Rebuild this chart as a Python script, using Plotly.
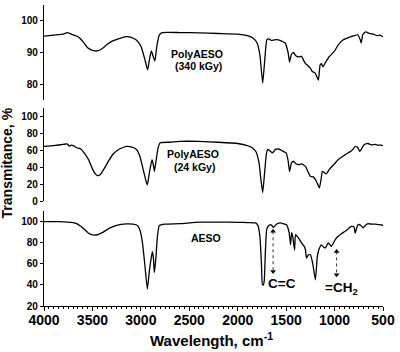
import plotly.graph_objects as go

# ---------------- data ----------------
wn_340 = [4000, 3900, 3800, 3760, 3720, 3650, 3600, 3550, 3500, 3450, 3400, 3350, 3300, 3200, 3150, 3100,
          3050, 3000, 2960, 2930, 2910, 2892, 2875, 2855, 2835, 2810, 2780, 2600, 2400, 2200, 2000, 1900,
          1840, 1800, 1770, 1742, 1720, 1700, 1680, 1650, 1620, 1580, 1540, 1510, 1480, 1465, 1445, 1424,
          1400, 1372, 1340, 1321, 1300, 1280, 1249, 1230, 1200, 1167, 1150, 1135, 1120, 1100, 1060, 1000,
          962, 910, 850, 800, 760, 735, 725, 710, 690, 674, 640, 600, 560, 530, 500]
t_340 = [95.2, 95.5, 95.8, 96.3, 95.8, 95.0, 93.5, 91.5, 90.7, 90.5, 91.2, 92.5, 93.5, 94.6, 95.0, 94.8,
         94.0, 92.0, 88.0, 84.5, 88.0, 90.5, 89.0, 87.3, 92.0, 95.5, 96.3, 96.3, 96.2, 96.0, 95.8, 95.3,
         94.5, 93.0, 89.0, 80.3, 88.0, 94.0, 94.3, 93.8, 94.0, 94.0, 93.5, 93.0, 90.0, 87.0, 89.5, 90.0,
         89.0, 88.6, 88.8, 87.6, 86.5, 86.0, 85.0, 84.0, 83.5, 81.3, 86.0, 86.5, 85.5, 86.5, 88.5, 90.5,
         92.4, 94.0, 94.8, 95.3, 95.6, 94.0, 93.0, 95.5, 96.3, 96.5, 96.0, 95.8, 95.3, 95.5, 95.0]

wn_24 = [4000, 3900, 3800, 3760, 3740, 3720, 3700, 3660, 3620, 3580, 3540, 3500, 3470, 3450, 3420, 3380,
         3330, 3290, 3230, 3150, 3100, 3045, 3010, 2984, 2950, 2933, 2910, 2885, 2870, 2860, 2840, 2820,
         2800, 2700, 2600, 2400, 2200, 2000, 1900, 1850, 1810, 1780, 1760, 1742, 1725, 1705, 1690, 1665,
         1640, 1610, 1580, 1550, 1520, 1500, 1480, 1465, 1445, 1424, 1400, 1372, 1340, 1300, 1280, 1249,
         1220, 1190, 1157, 1140, 1126, 1100, 1085, 1050, 1000, 962, 900, 859, 820, 787, 760, 740,
         720, 700, 670, 654, 620, 580, 550, 520, 500]
t_24 = [64.6, 65.5, 67.0, 67.5, 65.0, 66.0, 65.5, 63.0, 61.5, 56.0, 49.0, 38.0, 32.0, 30.0, 31.0, 38.0,
        48.0, 55.0, 61.0, 64.6, 64.0, 61.0, 53.0, 41.0, 25.0, 19.0, 35.0, 49.0, 42.0, 35.0, 50.0, 64.0,
        69.0, 69.5, 70.5, 70.5, 69.5, 68.0, 65.5, 63.0, 58.0, 45.0, 25.0, 10.0, 30.0, 55.0, 61.0, 59.0,
        57.0, 61.0, 61.5, 60.0, 58.0, 57.0, 48.0, 35.0, 45.0, 47.0, 44.0, 43.0, 44.0, 41.0, 36.0, 29.0,
        28.6, 24.0, 15.5, 25.0, 35.0, 33.0, 32.0, 38.0, 44.0, 49.0, 54.0, 57.0, 60.0, 64.6, 63.0, 58.7,
        62.0, 66.0, 68.0, 68.0, 66.5, 67.0, 66.0, 66.0, 65.5]

wn_aeso = [4000, 3850, 3700, 3662, 3620, 3580, 3540, 3497, 3450, 3400, 3323, 3250, 3148, 3080, 3035, 3010,
           2984, 2960, 2933, 2910, 2881, 2870, 2861, 2845, 2830, 2810, 2750, 2600, 2400, 2200, 2000, 1900,
           1850, 1814, 1790, 1770, 1755, 1745, 1735, 1725, 1715, 1701, 1680, 1660, 1645, 1635, 1620, 1600,
           1557, 1530, 1496, 1470, 1454, 1444, 1430, 1413, 1403, 1372, 1342, 1310, 1300, 1290, 1270, 1249,
           1225, 1198, 1178, 1160, 1136, 1115, 1095, 1065, 1034, 1010, 993, 962, 930, 890, 860, 828,
           800, 787, 775, 757, 730, 705, 680, 654, 620, 580, 540, 500]
t_aeso = [100.0, 100.0, 99.0, 98.0, 95.5, 92.5, 89.0, 87.3, 87.5, 89.5, 93.7, 96.5, 97.8, 97.5, 96.2, 92.0,
          80.3, 60.0, 36.0, 55.0, 71.4, 65.0, 51.7, 65.0, 85.0, 96.2, 97.5, 98.0, 99.4, 99.5, 99.3, 99.0,
          98.8, 98.7, 96.0, 85.0, 60.0, 40.0, 40.0, 45.0, 70.0, 92.4, 96.0, 97.0, 96.0, 94.5, 95.5, 97.5,
          98.7, 98.0, 97.0, 90.0, 78.0, 89.5, 85.0, 73.0, 87.6, 84.4, 79.7, 76.0, 73.0, 65.4, 68.6, 68.6,
          60.0, 44.8, 67.0, 74.0, 78.0, 76.0, 75.0, 79.7, 76.5, 80.0, 82.9, 86.0, 88.5, 90.8, 93.0, 95.5,
          95.0, 89.0, 93.0, 97.1, 96.5, 94.0, 96.5, 98.0, 97.5, 97.5, 97.0, 96.5]

x_ticks = [4000, 3500, 3000, 2500, 2000, 1500, 1000, 500]
y_ticks_top = [80, 90, 100]
y_ticks_mid = [0, 20, 40, 60, 80, 100]
y_ticks_bot = [20, 40, 60, 80, 100]

# band assignment markers (wavenumber, arrow top, arrow bottom)
cc_band = [1635, 90.8, 52.7]
ch2_band = [979, 71.7, 49.5]

FONT = "Liberation Sans"
BLACK = "#000000"

fig = go.Figure()

line = dict(color=BLACK, width=1.3, shape="spline", smoothing=0.4)
fig.add_trace(go.Scatter(x=wn_340, y=t_340, mode="lines", line=line, xaxis="x3", yaxis="y3", showlegend=False))
fig.add_trace(go.Scatter(x=wn_24, y=t_24, mode="lines", line=line, xaxis="x2", yaxis="y2", showlegend=False))
fig.add_trace(go.Scatter(x=wn_aeso, y=t_aeso, mode="lines", line=line, xaxis="x", yaxis="y", showlegend=False))

for band in (cc_band, ch2_band):
    fig.add_trace(go.Scatter(
        x=[band[0], band[0]], y=[band[1], band[2]], mode="lines+markers",
        line=dict(color="#333333", width=1, dash="dot"),
        marker=dict(symbol=["triangle-up", "triangle-down"], size=5, color=BLACK),
        xaxis="x", yaxis="y", showlegend=False, hoverinfo="skip"))

tickfont_y = dict(family=FONT, size=10, color=BLACK, weight="bold")
yax_common = dict(showline=True, linecolor=BLACK, linewidth=1.2, ticks="outside", ticklen=3,
                  tickcolor=BLACK, tickfont=tickfont_y, showgrid=False, zeroline=False, fixedrange=True)

fig.update_layout(
    width=400, height=352,
    margin=dict(l=44, r=15, t=5, b=46),
    plot_bgcolor="white", paper_bgcolor="white",
    xaxis=dict(domain=[0, 1], anchor="y", range=[4000, 500], tickvals=x_ticks,
               showline=True, linecolor=BLACK, linewidth=1.2, ticks="outside", ticklen=4,
               tickcolor=BLACK, showgrid=False, zeroline=False, ticklabelstandoff=-3,
               minor=dict(dtick=50, ticks="outside", ticklen=2, tickcolor=BLACK, showgrid=False),
               tickfont=dict(family=FONT, size=14, color=BLACK, weight="bold")),
    xaxis2=dict(domain=[0, 1], anchor="y2", matches="x", visible=False),
    xaxis3=dict(domain=[0, 1], anchor="y3", matches="x", visible=False),
    yaxis=dict(domain=[0, 0.3156], anchor="x", range=[20, 110], tickvals=y_ticks_bot, **yax_common),
    yaxis2=dict(domain=[0.3488, 0.6578], anchor="x2", range=[0, 110], tickvals=y_ticks_mid, **yax_common),
    yaxis3=dict(domain=[0.6844, 1], anchor="x3", range=[75, 105], tickvals=y_ticks_top, **yax_common),
)

lab = dict(family=FONT, size=10.5, color=BLACK, weight="bold")
big = dict(family=FONT, size=13.5, color=BLACK, weight="bold")
ann = [
    dict(text="PolyAESO", x=2420, y=89.5, xref="x3", yref="y3", font=lab),
    dict(text="(340 kGy)", x=2400, y=85.6, xref="x3", yref="y3", font=lab),
    dict(text="PolyAESO", x=2460, y=55.5, xref="x2", yref="y2", font=lab),
    dict(text="(24 kGy)", x=2450, y=39.8, xref="x2", yref="y2", font=lab),
    dict(text="AESO", x=2330, y=84.2, xref="x", yref="y", font=lab),
    dict(text="C=C", x=1547, y=41, xref="x", yref="y", font=big),
    dict(text="=CH<sub>2</sub>", x=925, y=37, xref="x", yref="y", font=big),
    dict(text="Transmitance, %", x=-0.108, y=0.475, xref="paper", yref="paper", textangle=-90,
         xanchor="center", yanchor="middle",
         font=dict(family=FONT, size=14, color=BLACK, weight="bold")),
    dict(text="Wavelength, cm<sup>-1</sup>", x=0.493, y=-0.112, xref="paper", yref="paper",
         xanchor="center", yanchor="middle",
         font=dict(family=FONT, size=15, color=BLACK, weight="bold")),
]
for a in ann:
    a["showarrow"] = False
    fig.add_annotation(**a)

fig.write_html("out.html")
